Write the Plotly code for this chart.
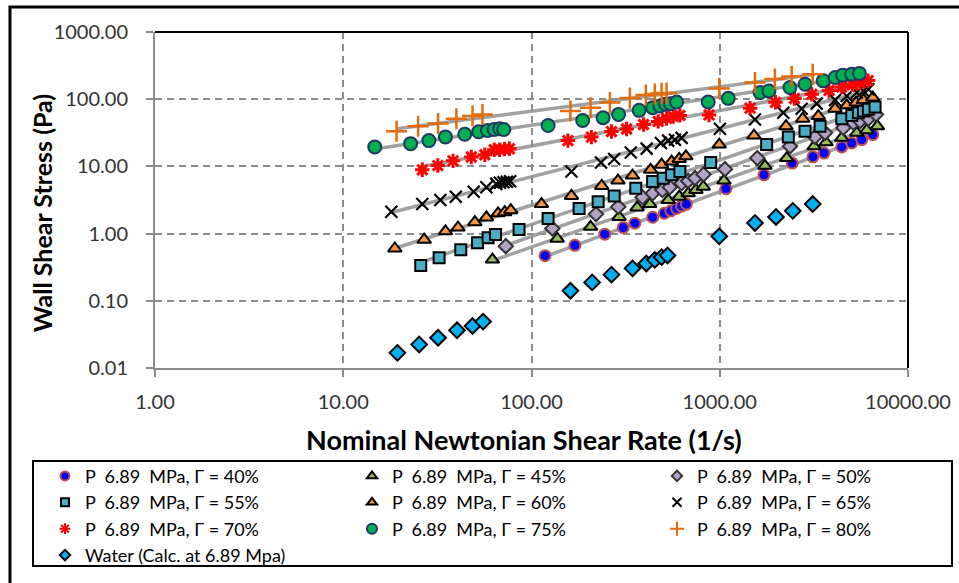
import numpy as np
import plotly.graph_objects as go

# Nominal Newtonian shear rate (1/s) and wall shear stress (Pa) per foam quality
rate_40 = [118, 170, 245, 307, 354, 440, 508, 550, 590, 627, 665, 1079, 1718, 2425, 3126, 3581, 4448, 5025, 5680, 6500]
stress_40 = [0.47, 0.67, 0.98, 1.23, 1.43, 1.75, 2.01, 2.18, 2.37, 2.57, 2.75, 4.65, 7.48, 11.2, 13.9, 15.8, 19.5, 22.3, 25.1, 29.8]

rate_45 = [62, 137, 206, 292, 364, 425, 532, 609, 680, 747, 818, 1052, 1738, 2268, 3170, 3669, 4448, 5343, 6040, 6876]
stress_45 = [0.41, 0.84, 1.26, 1.77, 2.45, 2.75, 3.16, 3.54, 3.98, 4.46, 5.0, 6.15, 10.2, 13.3, 19.9, 22.8, 26.6, 31.6, 34.5, 39.7]

rate_50 = [73, 129, 220, 289, 389, 440, 496, 543, 627, 680, 739, 820, 1066, 1583, 2361, 3208, 3624, 4537, 5129, 5562, 6160, 6766]
stress_50 = [0.65, 1.19, 1.95, 2.50, 3.47, 3.98, 4.46, 4.90, 5.62, 6.08, 6.68, 7.6, 9.1, 13.3, 19.9, 27.5, 31.6, 37.5, 44.6, 47.1, 51.2, 59.4]

rate_55 = [25.8, 32.3, 42.1, 51.7, 58.8, 64.4, 85.9, 122.5, 179, 226, 275, 358, 440, 501, 555, 614, 895,
           1775, 2313, 2838, 3413, 4448, 5025, 5449, 5796, 6160, 6683]
stress_55 = [0.335, 0.437, 0.576, 0.733, 0.871, 0.966, 1.15, 1.68, 2.37, 2.98, 3.63, 4.73, 5.94, 6.68, 7.48, 8.39, 11.4,
             21.1, 27.5, 33.4, 39.7, 51.2, 57.4, 63.0, 66.5, 70.6, 76.4]

rate_60 = [18.8, 26.9, 34.9, 40.7, 50, 57.6, 66.4, 72.1, 77.6, 113, 163, 236, 288, 344, 429, 491, 555, 609, 661,
           994, 1520, 2249, 2759, 3340, 4096, 4727, 5297, 5796, 6500]
stress_60 = [0.60, 0.81, 1.08, 1.23, 1.48, 1.74, 2.0, 2.08, 2.23, 2.75, 3.63, 5.12, 6.15, 7.3, 8.9, 10.6, 11.8, 12.9, 14.1,
             21.1, 28.8, 39.7, 51.2, 56, 72.3, 81, 89, 97.3, 105.7]

rate_65 = [18, 26.3, 32.8, 39.6, 49.3, 57.6, 65, 68, 71, 74, 77, 163, 234, 275, 337, 409, 487, 532, 578, 627,
           1002, 1538, 2176, 2725, 3273, 4096, 4727, 5343, 5796, 6160]
stress_65 = [2.11, 2.75, 3.16, 3.54, 4.2, 4.9, 5.5, 5.7, 5.8, 5.9, 6.0, 8.4, 11.4, 12.9, 16.1, 18.4, 22.3, 24.2, 25.0, 26.6,
             36.3, 50, 63, 72.3, 86, 97.3, 111.7, 125.6, 132.8, 140.6]

rate_70 = [26.3, 31.8, 38.3, 47.9, 56.5, 63.4, 67.8, 71.8, 76.3, 156, 208, 266, 320, 394, 471, 522, 566, 614,
           877, 1449, 1977, 2495, 3083, 3808, 4448, 5071, 5562, 6138]
stress_70 = [8.9, 10.3, 12.1, 13.8, 14.9, 17.7, 17.7, 18.1, 18.3, 24.2, 27.3, 33, 36, 42, 46.7, 51.7, 55.4, 57.4,
             58.3, 73.6, 89.9, 102.4, 118, 135, 152, 164, 173, 189]

rate_75 = [14.7, 22.8, 28.5, 34.9, 44.2, 52.4, 58.4, 63.3, 67.8, 71.3, 122.5, 187, 240, 290, 373, 440, 481, 516, 548, 590,
           868, 1110, 1637, 1825, 2360, 2840, 3550, 4100, 4500, 5025, 5520]
stress_75 = [19.5, 21.8, 24.2, 27.5, 30.1, 32.7, 34.2, 35.4, 36.3, 35.4, 40.6, 48.3, 53, 59.4, 68.2, 74.8, 79.1, 83.9, 85.6, 90.8,
             90.8, 103, 125.6, 132.7, 149.3, 167, 187.5, 210.7, 228, 236, 242]

rate_80 = [19.2, 25, 31.9, 39.9, 48.6, 54.9, 161, 206, 261, 333, 405, 452, 491, 522, 994, 1538, 1963, 2410, 3118]
stress_80 = [33.4, 39.7, 43.5, 51.2, 56, 59.4, 66.5, 74.8, 89, 104, 115, 120, 123, 124, 144, 177, 199, 218, 236]

rate_water = [19.4, 25.3, 31.9, 40.2, 48.6, 55.3, 161, 210, 266, 344, 407, 452, 491, 528, 994, 1538, 1990, 2443, 3118]
stress_water = [0.0168, 0.0224, 0.0282, 0.0364, 0.0422, 0.049, 0.141, 0.188, 0.245, 0.304, 0.359, 0.407, 0.446, 0.473,
                0.912, 1.44, 1.77, 2.18, 2.75]

NB = "\u00a0"  # keeps the double spacing in the legend labels
foam_qualities = ["40%", "45%", "50%", "55%", "60%", "65%", "70%", "75%", "80%"]
series_names = [f"P{NB}{NB}6.89{NB}{NB}MPa, \u0393 = {q}" for q in foam_qualities]
water_name = "Water (Calc. at 6.89 Mpa)"

x_tickvals = [1, 10, 100, 1000, 10000]
x_ticktext = ["1.00", "10.00", "100.00", "1000.00", "10000.00"]
y_tickvals = [0.01, 0.1, 1, 10, 100, 1000]
y_ticktext = ["0.01", "0.10", "1.00", "10.00", "100.00", "1000.00"]

foam_rates = [rate_40, rate_45, rate_50, rate_55, rate_60, rate_65, rate_70, rate_75, rate_80]
foam_stress = [stress_40, stress_45, stress_50, stress_55, stress_60, stress_65, stress_70, stress_75, stress_80]

# (symbol, plot size, legend size, fill, edge colour, edge width)
marker_styles = [
    ("circle", 11, 9, "#0000FF", "#C0504D", 2),
    ("triangle-up", 12, 9, "#9BBB59", "#000000", 2),
    ("diamond", 11, 8, "#B3A2C7", "#333333", 2),
    ("square", 11, 8, "#4BACC6", "#000000", 2),
    ("triangle-up", 12, 9, "#F79646", "#000000", 2),
    ("x-thin", 12, 9, "#000000", "#000000", 2.2),
    ("asterisk", 12, 9, "#FF0000", "#FF0000", 3),
    ("circle", 13, 10, "#00B050", "#1F3864", 2),
    ("cross-thin", 15, 10, "#E46C0A", "#E46C0A", 2.5),
]
water_style = ("diamond", 12, 8, "#00B0F0", "#000000", 2)


def marker(style, legend=False):
    sym, size, lsize, fill, edge, ew = style
    return dict(symbol=sym, size=lsize if legend else size, color=fill,
                line=dict(color=edge, width=min(ew, 2) if legend else ew))


fig = go.Figure()

# Power-law trend line for each foam quality (straight on log-log axes)
for rates, stress in zip(foam_rates, foam_stress):
    lx = np.log10(rates)
    ly = np.log10(stress)
    slope, icpt = np.polyfit(lx, ly, 1)
    xs = np.array([min(rates), max(rates)])
    fig.add_trace(go.Scatter(
        x=xs, y=10 ** (icpt + slope * np.log10(xs)), mode="lines",
        line=dict(color="rgba(145,145,145,0.85)", width=3.5),
        showlegend=False, hoverinfo="skip"))

all_names = series_names + [water_name]
all_rates = foam_rates + [rate_water]
all_stress = foam_stress + [stress_water]
all_styles = marker_styles + [water_style]

for name, rates, stress, st in zip(all_names, all_rates, all_stress, all_styles):
    fig.add_trace(go.Scatter(x=rates, y=stress, mode="markers", name=name,
                             legendgroup=name, showlegend=False, marker=marker(st)))

# legend entries with compact symbols, laid out in three columns (row-major order)
legend_ids = ["legend", "legend2", "legend3"]
for i, (name, st) in enumerate(zip(all_names, all_styles)):
    fig.add_trace(go.Scatter(x=[None], y=[None], mode="markers", name=name,
                             legendgroup=name, showlegend=True, legend=legend_ids[i % 3],
                             marker=marker(st, legend=True)))

axis_grey = "#8c8c8c"
tick_font = dict(family="Lato", size=20, color="#333333")

fig.update_xaxes(
    type="log", range=[0, 4], tickvals=x_tickvals, ticktext=x_ticktext,
    showgrid=True, gridcolor=axis_grey, gridwidth=2, griddash="7px,5px",
    showline=True, linecolor=axis_grey, linewidth=2,
    ticks="outside", ticklen=7, tickwidth=2, tickcolor=axis_grey,
    tickfont=tick_font, ticklabelstandoff=8, zeroline=False)
fig.update_yaxes(
    type="log", range=[-2, 3], tickvals=y_tickvals, ticktext=y_ticktext,
    showgrid=True, gridcolor=axis_grey, gridwidth=2, griddash="7px,5px",
    showline=True, linecolor=axis_grey, linewidth=2,
    ticks="outside", ticklen=7, tickwidth=2, tickcolor=axis_grey,
    tickfont=tick_font, ticklabelstandoff=14, zeroline=False)

legend_font = dict(family="Lato", size=18, color="#000000")
legend_common = dict(orientation="v", yanchor="top", xanchor="left", y=-0.267,
                     font=legend_font, bgcolor="rgba(0,0,0,0)", borderwidth=0,
                     tracegroupgap=0, itemwidth=30)

fig.update_layout(
    width=959, height=583,
    margin=dict(l=155, r=51, t=32, b=215, autoexpand=False),
    plot_bgcolor="white", paper_bgcolor="white",
    font=dict(family="Lato", color="#000000"),
    legend=dict(x=-0.1461, **legend_common),
    legend2=dict(x=0.2616, **legend_common),
    legend3=dict(x=0.6667, **legend_common),
    shapes=[
        # black frame on the top and right of the plot area
        dict(type="line", xref="paper", yref="paper", x0=0, x1=1, y0=1, y1=1,
             line=dict(color="#000000", width=2)),
        dict(type="line", xref="paper", yref="paper", x0=1, x1=1, y0=0, y1=1,
             line=dict(color="#000000", width=2)),
        # legend box
        dict(type="rect", xref="paper", yref="paper", x0=-0.162, x1=1.0584, y0=-0.589, y1=-0.2768,
             line=dict(color="#000000", width=2), fillcolor="rgba(0,0,0,0)"),
        # outer chart border
        dict(type="rect", xref="paper", yref="paper", x0=-0.1926, x1=1.2, y0=-0.8, y1=1.0744,
             line=dict(color="#000000", width=3), fillcolor="rgba(0,0,0,0)"),
    ],
    annotations=[
        dict(text="<b>Wall Shear Stress (Pa)</b>", xref="paper", yref="paper",
             x=-0.150, y=0.461, textangle=-90, showarrow=False,
             xanchor="center", yanchor="middle",
             font=dict(family="Lato", size=25, color="#000000")),
        dict(text="<b>Nominal Newtonian Shear Rate (1/s)</b>", xref="paper", yref="paper",
             x=0.490, y=-0.214, showarrow=False, xanchor="center", yanchor="middle",
             font=dict(family="Lato", size=27, color="#000000")),
    ],
)

fig.write_html("out.html")
